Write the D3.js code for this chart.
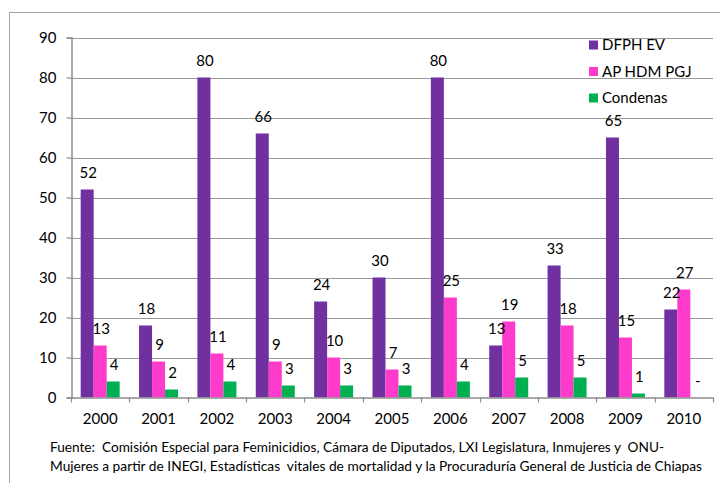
<!DOCTYPE html>
<html><head><meta charset="utf-8">
<script src="https://cdn.jsdelivr.net/npm/d3@7"></script>
<style>body{margin:0;background:#fff;}svg{display:block;}</style>
</head><body>
<script>
const years = ["2000","2001","2002","2003","2004","2005","2006","2007","2008","2009","2010"];
const seriesNames = ["DFPH EV","AP HDM PGJ","Condenas"];
const dfphEv = [52,18,80,66,24,30,80,13,33,65,22];
const apHdmPgj = [13,9,11,9,10,7,25,19,18,15,27];
const condenas = [4,2,4,3,3,3,4,5,5,1,null];
const yTicks = [0,10,20,30,40,50,60,70,80,90];
const colors = ["#7030A0","#FF3BCB","#00B050"];
const footnote = ["Fuente:  Comisión Especial para Feminicidios, Cámara de Diputados, LXI Legislatura, Inmujeres y  ONU-",
  "Mujeres a partir de INEGI, Estadísticas  vitales de mortalidad y la Procuraduría General de Justicia de Chiapas"];

const allSeries = [dfphEv, apHdmPgj, condenas];
const W = 720, H = 483;
const font = "Lato, 'Open Sans', sans-serif";
const svg = d3.select("body").append("svg").attr("width", W).attr("height", H);

// outer border
svg.append("rect").attr("x", 9.5).attr("y", 12.5).attr("width", 800).attr("height", 600)
  .attr("fill", "none").attr("stroke", "#a6a6a6").attr("stroke-width", 1);

const x0 = d3.scaleBand().domain(years).range([71, 713]).padding(0);
const x1 = d3.scaleBand().domain(seriesNames).range([0, x0.bandwidth()]).paddingInner(0).paddingOuter(0.745);
const y = d3.scaleLinear().domain([0, 90]).range([397.5, 37.5]);

// gridlines
svg.append("g").selectAll("line").data(yTicks.filter(d => d > 0)).join("line")
  .attr("x1", 71).attr("x2", 713)
  .attr("y1", d => Math.round(y(d)) + 0.5).attr("y2", d => Math.round(y(d)) + 0.5)
  .attr("stroke", "#9a9a9a").attr("stroke-width", 1.2);

// y axis
const yAxis = svg.append("g").attr("transform", "translate(71.5,0)")
  .call(d3.axisLeft(y).tickValues(yTicks).tickSize(5).tickPadding(10).tickFormat(d3.format("d")));
yAxis.select(".domain").attr("stroke", "#8c8c8c").attr("stroke-width", 1.5);
yAxis.selectAll(".tick line").attr("stroke", "#8c8c8c").attr("stroke-width", 1.2);
yAxis.selectAll("text").attr("font-family", font).attr("font-size", 15).attr("fill", "#000");

// bars
const groups = svg.append("g").selectAll("g").data(years).join("g")
  .attr("transform", d => `translate(${x0(d)},0)`);
groups.selectAll("rect")
  .data((d, i) => seriesNames.map((s, j) => ({s, j, v: allSeries[j][i]})))
  .join("rect")
  .filter(d => d.v != null)
  .attr("x", d => x1(d.s)).attr("width", x1.bandwidth())
  .attr("y", d => y(d.v)).attr("height", d => y(0) - y(d.v))
  .attr("fill", d => colors[d.j]);

// x axis
const xAxis = svg.append("g").attr("transform", "translate(0,397.5)")
  .call(d3.axisBottom(x0).tickSize(0).tickPadding(16));
xAxis.select(".domain").attr("stroke", "#8c8c8c").attr("stroke-width", 1.5);
xAxis.selectAll("text").attr("font-family", font).attr("font-size", 15).attr("fill", "#000");
svg.append("g").selectAll("line").data(years.concat(["end"])).join("line")
  .attr("x1", (d, i) => Math.round(71 + i * x0.step()) + 0.5)
  .attr("x2", (d, i) => Math.round(71 + i * x0.step()) + 0.5)
  .attr("y1", 397.5).attr("y2", 402.5).attr("stroke", "#8c8c8c").attr("stroke-width", 1.2);

// data labels
groups.selectAll("text.lbl")
  .data((d, i) => seriesNames.map((s, j) => ({s, j, v: allSeries[j][i]})))
  .join("text").attr("class", "lbl")
  .attr("x", d => x1(d.s) + x1.bandwidth() / 2 + 1)
  .attr("y", d => y(d.v == null ? 0 : d.v) - 12)
  .attr("text-anchor", "middle")
  .attr("font-family", font).attr("font-size", 15).attr("fill", "#000")
  .text(d => d.v == null ? "-" : d.v);

// legend
const leg = svg.append("g").selectAll("g").data(seriesNames).join("g")
  .attr("transform", (d, i) => `translate(589,${45 + i * 26.5})`);
leg.append("rect").attr("x", 0).attr("y", -4.5).attr("width", 9).attr("height", 9)
  .attr("fill", (d, i) => colors[i]);
leg.append("text").attr("x", 13).attr("y", 0).attr("dy", "0.35em")
  .attr("font-family", font).attr("font-size", 15).attr("fill", "#000").text(d => d);

// footnote
svg.append("g").selectAll("text").data(footnote).join("text")
  .attr("x", 50).attr("y", (d, i) => 452 + i * 19)
  .style("white-space", "pre")
  .attr("font-family", font).attr("font-size", 12.5).attr("fill", "#000")
  .attr("textLength", (d, i) => i === 0 ? 614 : 652).attr("lengthAdjust", "spacingAndGlyphs")
  .text(d => d);
</script>
</body></html>
